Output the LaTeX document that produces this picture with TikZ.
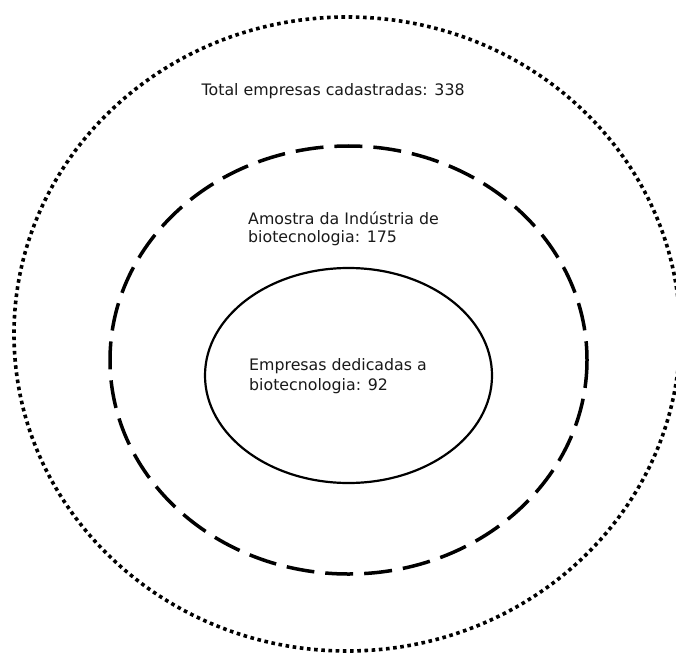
\documentclass[tikz,border=0pt]{standalone}
\usepackage{fontspec}
\setmainfont{DejaVu Sans}
\begin{document}
\begin{tikzpicture}[x=1pt,y=-1pt,
  lbl/.style={anchor=base west,inner sep=0pt,font=\fontsize{15.8}{19}\selectfont,text=black!90},
  outerring/.style={line width=3.6pt,dash pattern=on 3.6pt off 3.6pt},
  midring/.style={line width=3.5pt,dash pattern=on 28pt off 11pt},
  innerring/.style={line width=2.2pt}]
\useasboundingbox (0,0) rectangle (676,652);
\clip (0,0) rectangle (676,652);
\draw[outerring] (347,334) ellipse [x radius=333, y radius=317];
\draw[midring] (348.5,360) ellipse [x radius=238.5, y radius=214];
\draw[innerring] (348.5,375.5) ellipse [x radius=143.5, y radius=107.5];
\node[lbl] (total) at (201.5,96) {Total empresas cadastradas: 338};
\node[lbl] (amostraA) at (248,224) {Amostra da Indústria de};
\node[lbl] (amostraB) at (248,242) {biotecnologia: 175};
\node[lbl] (dedicA) at (249,370) {Empresas dedicadas a};
\node[lbl] (dedicB) at (249,390) {biotecnologia: 92};
\end{tikzpicture}
\end{document}
